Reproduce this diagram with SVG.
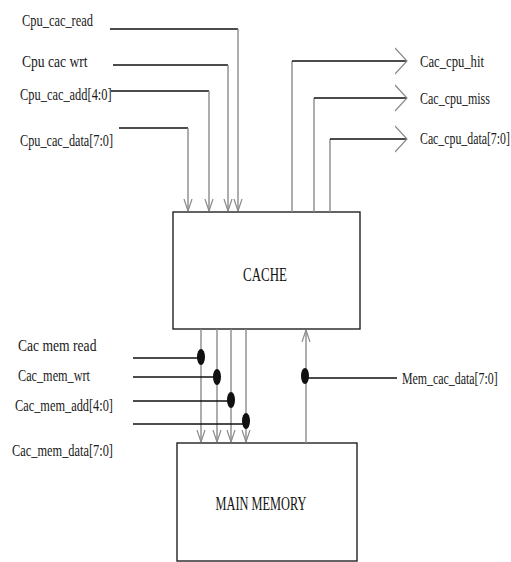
<svg xmlns="http://www.w3.org/2000/svg" width="511" height="562" viewBox="0 0 511 562">
<style>
.lbl{font-family:"Liberation Serif",serif;font-size:17px;fill:#1a1a1a}
.box{fill:#fff;stroke:#222;stroke-width:1.4}
.boxlbl{font-family:"Liberation Serif",serif;font-size:19px;fill:#111;text-anchor:middle}
.h{stroke:#111;stroke-width:1.4;fill:none}
.v{stroke:#8a8a8a;stroke-width:1.4;fill:none}
.dot{fill:#111}
</style>
<defs>
<marker id="vIn" viewBox="0 0 12 10" refX="12" refY="5" markerWidth="12" markerHeight="10" orient="auto" markerUnits="userSpaceOnUse">
<path d="M0,1 L12,5 L0,9" fill="none" stroke="#8a8a8a" stroke-width="1.2"/>
</marker>
<marker id="vOut" viewBox="0 0 13 28" refX="12" refY="14" markerWidth="13" markerHeight="28" orient="auto" markerUnits="userSpaceOnUse">
<path d="M0,1 L12,14 L0,27" fill="none" stroke="#8a8a8a" stroke-width="1.2"/>
</marker>
</defs>
<rect width="511" height="562" fill="#fff"/>
<g id="cache">
<rect class="box" x="173" y="212" width="187" height="117"/>
<text class="boxlbl" transform="translate(265,281) scale(0.68,1)">CACHE</text>
</g>
<g id="main-memory">
<rect class="box" x="177" y="443" width="180" height="118"/>
<text class="boxlbl" transform="translate(261,510) scale(0.65,1)">MAIN MEMORY</text>
</g>
<g id="labels">
<text class="lbl" transform="translate(22,26) scale(0.73,1)">Cpu_cac_read</text>
<text class="lbl" transform="translate(22,67) scale(0.8,1)">Cpu cac wrt</text>
<text class="lbl" transform="translate(20,100) scale(0.73,1)">Cpu_cac_add[4:0]</text>
<text class="lbl" transform="translate(20,146) scale(0.72,1)">Cpu_cac_data[7:0]</text>
<text class="lbl" transform="translate(420,67) scale(0.745,1)">Cac_cpu_hit</text>
<text class="lbl" transform="translate(420,104) scale(0.706,1)">Cac_cpu_miss</text>
<text class="lbl" transform="translate(420,144) scale(0.696,1)">Cac_cpu_data[7:0]</text>
<text class="lbl" transform="translate(18,351) scale(0.8,1)">Cac mem read</text>
<text class="lbl" transform="translate(18,381) scale(0.72,1)">Cac_mem_wrt</text>
<text class="lbl" transform="translate(15,411) scale(0.726,1)">Cac_mem_add[4:0]</text>
<text class="lbl" transform="translate(12,456) scale(0.728,1)">Cac_mem_data[7:0]</text>
<text class="lbl" transform="translate(402,384) scale(0.7,1)">Mem_cac_data[7:0]</text>
</g>
<g id="connectors">
<path class="h" d="M110,29 H238"/>
<path class="v" d="M238,29 V211" marker-end="url(#vIn)"/>
<path class="h" d="M113,65 H228"/>
<path class="v" d="M228,65 V211" marker-end="url(#vIn)"/>
<path class="h" d="M111,91 H209"/>
<path class="v" d="M209,91 V211" marker-end="url(#vIn)"/>
<path class="h" d="M119,128 H188"/>
<path class="v" d="M188,128 V211" marker-end="url(#vIn)"/>
<path class="v" d="M292,212 V61"/>
<path class="h" d="M292,61 H407" marker-end="url(#vOut)"/>
<path class="v" d="M314,212 V98"/>
<path class="h" d="M314,98 H407" marker-end="url(#vOut)"/>
<path class="v" d="M330,212 V139"/>
<path class="h" d="M330,139 H407" marker-end="url(#vOut)"/>
<path class="v" d="M201,329 V442" marker-end="url(#vIn)"/>
<path class="v" d="M217,329 V442" marker-end="url(#vIn)"/>
<path class="v" d="M231,329 V442" marker-end="url(#vIn)"/>
<path class="v" d="M246,329 V442" marker-end="url(#vIn)"/>
<path class="h" d="M133,358 H201"/>
<path class="h" d="M133,377 H217"/>
<path class="h" d="M133,401 H231"/>
<path class="h" d="M133,424 H246"/>
<ellipse class="dot" cx="201" cy="357" rx="4" ry="8"/>
<ellipse class="dot" cx="217" cy="377" rx="4" ry="8"/>
<ellipse class="dot" cx="231" cy="400" rx="4" ry="8"/>
<ellipse class="dot" cx="246" cy="421" rx="4" ry="8"/>
<path class="v" d="M306,443 V330" marker-end="url(#vIn)"/>
<path class="h" d="M306,378 H397"/>
<ellipse class="dot" cx="305" cy="376" rx="4" ry="8"/>
</g>
</svg>
